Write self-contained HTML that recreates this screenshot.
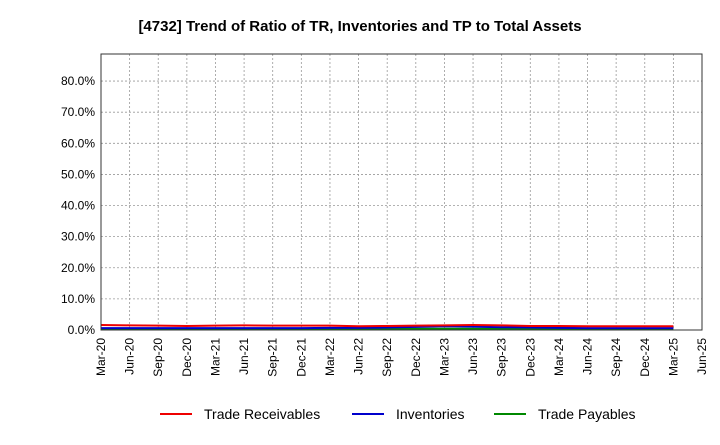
<!DOCTYPE html>
<html><head><meta charset="utf-8"><style>
body{margin:0;background:#fff;font-family:"Liberation Sans",sans-serif}
</style></head><body>
<svg id="c" width="720" height="440" xmlns="http://www.w3.org/2000/svg">
<text x="360" y="31" text-anchor="middle" font-size="15" font-weight="bold">[4732]  Trend of Ratio of TR, Inventories and TP to Total Assets</text>
<g id="grid"></g><g id="series"></g><g id="axes"></g>
<g>
<line x1="160" y1="414" x2="192" y2="414" stroke="#e00" stroke-width="2"/><text x="204" y="419" font-size="14">Trade Receivables</text>
<line x1="352" y1="414" x2="384" y2="414" stroke="#00c" stroke-width="2"/><text x="396" y="419" font-size="14">Inventories</text>
<line x1="494" y1="414" x2="526" y2="414" stroke="#080" stroke-width="2"/><text x="538" y="419" font-size="14">Trade Payables</text>
</g>
</svg>
<script>
const xLabels=["Mar-20","Jun-20","Sep-20","Dec-20","Mar-21","Jun-21","Sep-21","Dec-21","Mar-22","Jun-22","Sep-22","Dec-22","Mar-23","Jun-23","Sep-23","Dec-23","Mar-24","Jun-24","Sep-24","Dec-24","Mar-25","Jun-25"];
const yTicks=[0,10,20,30,40,50,60,70,80];
const tradeReceivables=[1.6,1.5,1.4,1.3,1.4,1.5,1.4,1.4,1.4,1.2,1.3,1.4,1.5,1.6,1.5,1.3,1.3,1.2,1.2,1.2,1.2];
const inventories=[0.6,0.6,0.6,0.6,0.6,0.6,0.6,0.6,0.7,0.7,0.8,1.0,1.2,1.1,0.9,0.8,0.7,0.6,0.6,0.6,0.6];
const tradePayables=[0.4,0.4,0.4,0.4,0.4,0.4,0.4,0.4,0.4,0.4,0.4,0.4,0.4,0.4,0.4,0.4,0.4,0.4,0.4,0.4,0.4];
const L=101,R=702,T=54,B=330,yMax=88.7;
const x=i=>L+(R-L)*i/(xLabels.length-1);
const y=v=>B-(B-T)*v/yMax;
const ns="http://www.w3.org/2000/svg";
function mk(p,t,a){const e=document.createElementNS(ns,t);for(const k in a)e.setAttribute(k,a[k]);p.appendChild(e);return e;}
const g=document.getElementById('grid'),ax=document.getElementById('axes'),s=document.getElementById('series');
xLabels.forEach((l,i)=>{
 const ln=mk(g,'line',{x1:x(i),x2:x(i),y1:T,y2:B,stroke:'#999','stroke-dasharray':'2,2','stroke-width':0.8});
 
 
 const t=mk(ax,'text',{x:0,y:0,'font-size':12,'text-anchor':'end',transform:`translate(${x(i)+4},${B+8}) rotate(-90)`});
 t.textContent=l;
 
 
});
yTicks.forEach(v=>{
 const ln=mk(g,'line',{x1:L,x2:R,y1:y(v),y2:y(v),stroke:'#999','stroke-dasharray':'2,2','stroke-width':0.8});
 
 
 const t=mk(ax,'text',{x:L-6,y:y(v)+4,'font-size':12,'text-anchor':'end'});
 t.textContent=v.toFixed(1)+'%';
 
 
});
const fr=mk(ax,'rect',{x:L,y:T,width:R-L,height:B-T,fill:'none',stroke:'#333','stroke-width':1});


[[tradePayables,'#080','trade-payables-line'],[inventories,'#00c','inventories-line'],[tradeReceivables,'#e00','trade-receivables-line']].forEach(([d,c,n])=>{
 const p=mk(s,'polyline',{points:d.map((v,i)=>x(i)+','+y(v)).join(' '),fill:'none',stroke:c,'stroke-width':2});
 
 
});
</script>
</body></html>
